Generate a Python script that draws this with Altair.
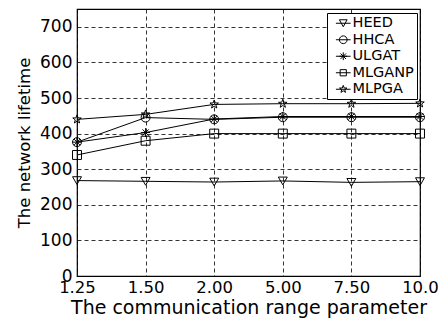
import altair as alt
import pandas as pd

x_labels = ["1.25", "1.50", "2.00", "5.00", "7.50", "10.0"]
series_names = ["HEED", "HHCA", "ULGAT", "MLGANP", "MLPGA"]
heed = [268, 266, 264, 267, 263, 265]
hhca = [376, 445, 440, 446, 446, 446]
ulgat = [376, 403, 441, 448, 448, 448]
mlganp = [340, 380, 400, 400, 400, 400]
mlpga = [440, 454, 482, 484, 484, 485]
y_ticks = [0, 100, 200, 300, 400, 500, 600, 700]

all_vals = [heed, hhca, ulgat, mlganp, mlpga]
rows = []
for name, vals in zip(series_names, all_vals):
    for xl, v in zip(x_labels, vals):
        rows.append({"x": xl, "series": name, "value": v})
df = pd.DataFrame(rows)

ASTER = "M0,-1L0,1M-1,0L1,0M-0.7,-0.7L0.7,0.7M-0.7,0.7L0.7,-0.7"
STAR = ("M0,-1L0.24,-0.33L0.95,-0.31L0.38,0.12L0.59,0.81L0,0.4L-0.59,0.81"
        "L-0.38,0.12L-0.95,-0.31L-0.24,-0.33Z")
CIRC = "M-1,0A1,1 0 1,0 1,0A1,1 0 1,0 -1,0"
plain_shapes = ["triangle-down", "circle", ASTER, "square", STAR]

LINE = "M-1.9,0L1.9,0"
TRI = "M-1,-0.9L1,-0.9L0,0.9Z"
SQ = "M-0.8,-0.8L0.8,-0.8L0.8,0.8L-0.8,0.8Z"
legend_shapes = [TRI + LINE, CIRC + LINE, ASTER + LINE, SQ + LINE, STAR + LINE]

FONT = "DejaVu Sans"

x_enc = alt.X("x:N", sort=x_labels,
              scale=alt.Scale(type="point", padding=0),
              axis=alt.Axis(title="The communication range parameter",
                            labelAngle=0, labelFontSize=16.5, titleFontSize=19,
                            labelPadding=3, titlePadding=3, ticks=False,
                            domain=False, grid=True, gridDash=[4, 3],
                            gridColor="black", gridOpacity=1, gridWidth=0.8,
                            labelColor="black", titleColor="black",
                            titleFontWeight="normal", labelFont=FONT,
                            titleFont=FONT))
y_enc = alt.Y("value:Q", scale=alt.Scale(domain=[0, 750], nice=False),
              axis=alt.Axis(title="The network lifetime", values=y_ticks,
                            labelFontSize=17, titleFontSize=16.5,
                            labelPadding=5, titlePadding=7, ticks=False,
                            domain=False, grid=True, gridDash=[4, 3],
                            gridColor="black", gridOpacity=1, gridWidth=0.8,
                            labelColor="black", titleColor="black",
                            titleFontWeight="normal", labelFont=FONT,
                            titleFont=FONT))

lines = alt.Chart(df).mark_line(color="black", strokeWidth=1).encode(
    x=x_enc, y=y_enc, detail="series:N")

points = alt.Chart(df).mark_point(filled=False, color="black", size=80,
                                  strokeWidth=1, opacity=1).encode(
    x=x_enc, y=y_enc,
    shape=alt.Shape("series:N",
                    scale=alt.Scale(domain=series_names, range=plain_shapes),
                    legend=None))

legend_layer = alt.Chart(df).mark_point(filled=False, color="black",
                                        strokeWidth=1, opacity=1).encode(
    shape=alt.Shape("series:N",
                    scale=alt.Scale(domain=series_names, range=legend_shapes),
                    legend=alt.Legend(title=None, orient="none",
                                      legendX=250, legendY=4,
                                      fillColor="white", strokeColor="black",
                                      padding=3, labelFontSize=14.5,
                                      labelFont=FONT, labelColor="black",
                                      symbolSize=60, symbolStrokeWidth=1,
                                      symbolStrokeColor="black",
                                      symbolFillColor="transparent",
                                      rowPadding=1.5, labelOffset=2,
                                      symbolOffset=6))
).transform_filter("false")

chart = alt.layer(lines, points, legend_layer).resolve_scale(
    shape="independent"
).properties(
    width=343, height=267,
    autosize=alt.AutoSizeParams(type="none"),
    padding={"left": 77, "top": 9, "right": 25, "bottom": 47},
    background="white",
).configure_view(stroke="black", strokeWidth=1.2)

chart.save("out.html", embed_options={"renderer": "svg", "actions": False})
